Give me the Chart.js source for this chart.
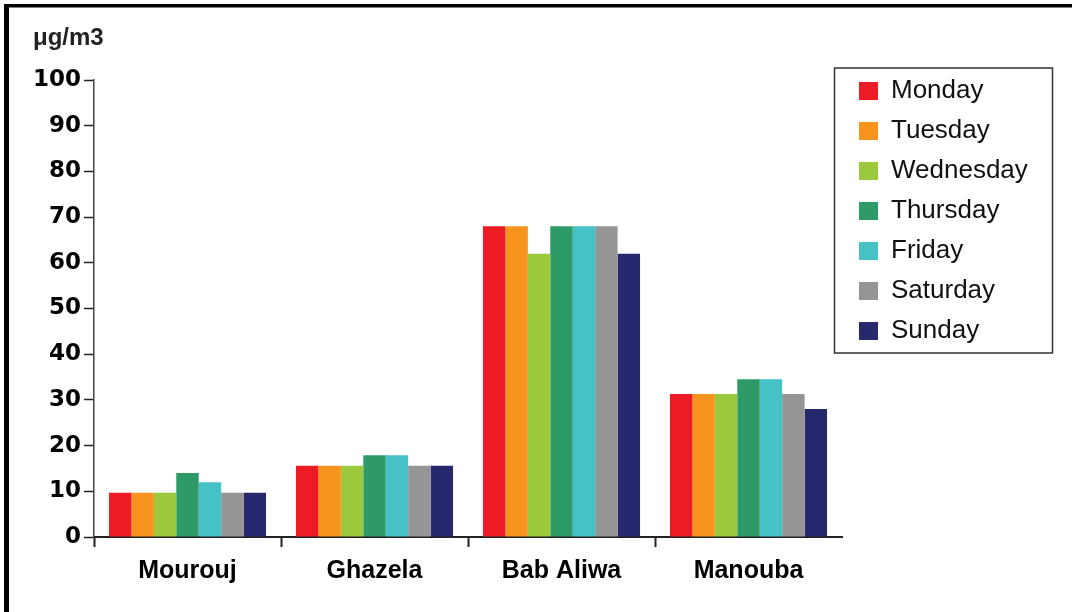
<!DOCTYPE html>
<html>
<head>
<meta charset="utf-8">
<title>μg/m3 by site and weekday</title>
<script src="https://cdn.jsdelivr.net/npm/chart.js@4.4.1/dist/chart.umd.min.js"></script>
<style>
  html, body { margin: 0; padding: 0; background: #fff; }
  canvas { display: block; }
</style>
</head>
<body>
<canvas id="chart" width="1072" height="612"></canvas>
<script>
// Monitoring sites (x categories)
const sites = ['Mourouj', 'Ghazela', 'Bab Aliwa', 'Manouba'];

// One series per weekday, values per site in µg/m3
const days = ['Monday', 'Tuesday', 'Wednesday', 'Thursday', 'Friday', 'Saturday', 'Sunday'];
const monday    = [9.7, 15.6, 68, 31.3];
const tuesday   = [9.7, 15.6, 68, 31.3];
const wednesday = [9.7, 15.6, 62, 31.3];
const thursday  = [14, 17.9, 68, 34.5];
const friday    = [12, 17.9, 68, 34.5];
const saturday  = [9.7, 15.6, 68, 31.3];
const sunday    = [9.7, 15.6, 62, 28];

// Value axis tick labels
const yTicks = [0, 10, 20, 30, 40, 50, 60, 70, 80, 90, 100];
const unitLabel = 'μg/m3';

const dayColors = ['#ED1C24', '#F7941D', '#9BC83C', '#2E9A68', '#46C2C7', '#959595', '#27286E'];
const dayValues = [monday, tuesday, wednesday, thursday, friday, saturday, sunday];

const datasets = days.map((d, i) => ({
  label: d,
  data: dayValues[i],
  backgroundColor: dayColors[i],
  borderWidth: 0,
  categoryPercentage: 0.84,
  barPercentage: 1.0
}));

// Page furniture: white background, framed corner, boxed legend at a fixed spot
const pagePlugin = {
  id: 'page',
  beforeUpdate(chart) {
    const lg = chart.legend;
    if (lg && !lg.__fixedWidth) {
      const fit = lg.fit;
      lg.fit = function () { fit.call(this); this.width = 230; };
      lg.__fixedWidth = true;
    }
  },
  afterLayout(chart) {
    const lg = chart.legend;
    if (!lg) return;
    lg.left = 845; lg.right = 1072;
    lg.top = 64; lg.bottom = 612;
  },
  beforeDraw(chart) {
    const ctx = chart.ctx;
    ctx.save();
    ctx.fillStyle = '#fff';
    ctx.fillRect(0, 0, chart.width, chart.height);
    ctx.restore();
  },
  afterDraw(chart) {
    const ctx = chart.ctx;
    const lg = chart.legend;
    ctx.save();
    // legend frame
    ctx.strokeStyle = '#333';
    ctx.lineWidth = 1.5;
    ctx.strokeRect(834.5, 68, 218, 285);
    // outer frame along top and left edges
    ctx.fillStyle = '#000';
    ctx.fillRect(4, 4, chart.width - 4, 3.5);
    ctx.fillRect(4, 4, 5, chart.height - 4);
    ctx.restore();
  }
};

new Chart(document.getElementById('chart'), {
  type: 'bar',
  data: { labels: sites, datasets },
  options: {
    responsive: false,
    animation: false,
    devicePixelRatio: 1,
    layout: { padding: { left: 33, top: 10, right: 0, bottom: 0 } },
    plugins: {
      title: {
        display: true,
        text: unitLabel,
        align: 'start',
        color: '#222',
        font: { family: "'Liberation Sans', Arial, sans-serif", size: 24, weight: 'bold' },
        padding: { top: 14, bottom: 27.2 }
      },
      legend: {
        display: true,
        position: 'right',
        align: 'start',
        fullSize: false,
        labels: {
          boxWidth: 19,
          boxHeight: 18,
          padding: 14,
          color: '#111',
          font: { family: "'Liberation Sans', Arial, sans-serif", size: 26 }
        }
      },
      tooltip: { enabled: false }
    },
    scales: {
      x: {
        afterFit(scale) { scale.height = 75; },
        grid: {
          offset: true,
          drawOnChartArea: false,
          drawTicks: true,
          tickLength: 10,
          tickWidth: 2,
          tickColor: c => (c.type === 'tick' ? '#222' : 'rgba(0,0,0,0)')
        },
        border: { display: true, color: '#222', width: 2 },
        ticks: {
          padding: 9,
          color: '#000',
          font: { family: "'Liberation Sans', Arial, sans-serif", size: 25, weight: 'bold' }
        }
      },
      y: {
        min: 0,
        max: 100,
        afterFit(scale) { scale.width = 61; },
        afterBuildTicks(scale) { scale.ticks = yTicks.map(v => ({ value: v })); },
        grid: {
          drawOnChartArea: false,
          drawTicks: true,
          tickLength: 10,
          tickWidth: 1.5,
          tickColor: '#222'
        },
        border: { display: true, color: '#444', width: 1.5 },
        ticks: {
          padding: 3,
          color: '#000',
          font: { family: "'DejaVu Sans', Verdana, sans-serif", size: 23, weight: 'bold' }
        }
      }
    }
  },
  plugins: [pagePlugin]
});
</script>
</body>
</html>
